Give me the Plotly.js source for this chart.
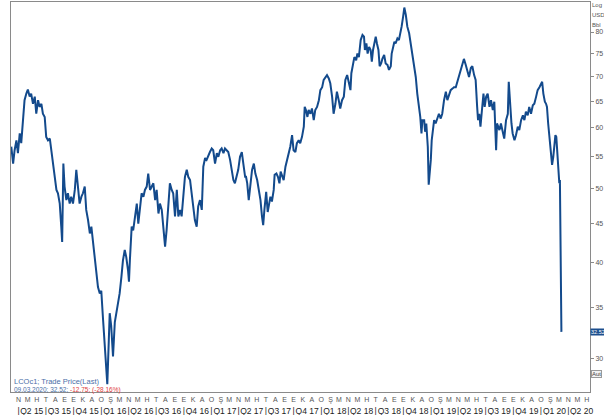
<!DOCTYPE html>
<html>
<head>
<meta charset="utf-8">
<script src="https://cdn.plot.ly/plotly-3.0.1.min.js"></script>
<style>html,body{margin:0;padding:0;background:#fff;}#chart{width:604px;height:415px;}</style>
</head>
<body>
<div id="chart"></div>
<script>
const dates = [
"2015-03-08","2015-03-14","2015-03-19","2015-03-25","2015-03-30","2015-04-05","2015-04-10","2015-04-16","2015-04-21","2015-04-27",
"2015-05-02","2015-05-08","2015-05-13","2015-05-19","2015-05-25","2015-05-30","2015-06-05","2015-06-10","2015-06-16","2015-06-21",
"2015-06-27","2015-07-02","2015-07-08","2015-07-14","2015-07-19","2015-07-25","2015-07-30","2015-08-05","2015-08-10","2015-08-16",
"2015-08-21","2015-08-24","2015-08-28","2015-09-01","2015-09-07","2015-09-12","2015-09-18","2015-09-23","2015-09-29","2015-10-05",
"2015-10-10","2015-10-16","2015-10-21","2015-10-27","2015-11-01","2015-11-07","2015-11-12","2015-11-18","2015-11-24","2015-11-29",
"2015-12-04","2015-12-10","2015-12-15","2015-12-21","2015-12-27","2016-01-01","2016-01-07","2016-01-12","2016-01-18","2016-01-21",
"2016-01-26","2016-01-29","2016-02-03","2016-02-09","2016-02-15","2016-02-20","2016-02-26","2016-03-02","2016-03-08","2016-03-13",
"2016-03-19","2016-03-24","2016-03-30",
"2016-04-02","2016-04-05","2016-04-09","2016-04-11","2016-04-16","2016-04-22","2016-04-28","2016-05-03","2016-05-09","2016-05-14",
"2016-05-20","2016-05-25","2016-05-31","2016-06-05","2016-06-11","2016-06-17","2016-06-22","2016-06-28","2016-07-03","2016-07-09",
"2016-07-14","2016-07-20","2016-07-25","2016-07-31","2016-08-05","2016-08-11","2016-08-16","2016-08-22","2016-08-27","2016-09-02",
"2016-09-08","2016-09-13","2016-09-19","2016-09-24","2016-09-30","2016-10-05","2016-10-11","2016-10-16","2016-10-22","2016-10-27",
"2016-11-02","2016-11-07","2016-11-13","2016-11-18","2016-11-24","2016-11-30","2016-12-05","2016-12-11","2016-12-16","2016-12-22",
"2016-12-27","2017-01-02","2017-01-07","2017-01-13","2017-01-19","2017-01-24","2017-01-30","2017-02-04","2017-02-10","2017-02-15",
"2017-02-21","2017-02-26","2017-03-04","2017-03-09","2017-03-15","2017-03-20","2017-03-26","2017-03-31","2017-04-06","2017-04-12",
"2017-04-17","2017-04-23",
"2017-04-26","2017-04-30","2017-05-05","2017-05-10","2017-05-16","2017-05-22","2017-05-27","2017-06-02","2017-06-07","2017-06-13",
"2017-06-18","2017-06-22","2017-06-26","2017-06-29","2017-07-02","2017-07-07","2017-07-10","2017-07-16","2017-07-21","2017-07-27",
"2017-07-30","2017-08-05","2017-08-10","2017-08-15","2017-08-19","2017-08-24","2017-08-29","2017-09-04","2017-09-09","2017-09-15",
"2017-09-20","2017-09-26","2017-10-01","2017-10-07","2017-10-12","2017-10-18","2017-10-23","2017-10-29","2017-11-04","2017-11-07",
"2017-11-11","2017-11-16","2017-11-20","2017-11-26","2017-12-01","2017-12-07","2017-12-12","2017-12-18","2017-12-24","2017-12-29",
"2018-01-04","2018-01-09","2018-01-15","2018-01-20","2018-01-26","2018-01-31","2018-02-06","2018-02-11","2018-02-17","2018-02-22",
"2018-02-28","2018-03-05","2018-03-11","2018-03-17","2018-03-22","2018-03-28","2018-04-02","2018-04-08","2018-04-11","2018-04-16",
"2018-04-21","2018-04-27","2018-05-01","2018-05-06",
"2018-05-12","2018-05-18","2018-05-23","2018-05-26","2018-05-31","2018-06-04","2018-06-09","2018-06-14","2018-06-18","2018-06-22",
"2018-06-26","2018-07-01","2018-07-05","2018-07-10","2018-07-14","2018-07-19","2018-07-23","2018-07-29","2018-08-03","2018-08-09",
"2018-08-14","2018-08-20","2018-08-23","2018-08-28","2018-09-01","2018-09-05","2018-09-11","2018-09-16","2018-09-21","2018-09-25",
"2018-09-30","2018-10-04","2018-10-09","2018-10-14","2018-10-20","2018-10-25","2018-10-31","2018-11-05","2018-11-11","2018-11-16",
"2018-11-22","2018-11-26","2018-11-30","2018-12-03","2018-12-09","2018-12-12","2018-12-16","2018-12-21","2018-12-24","2018-12-31",
"2019-01-03","2019-01-07","2019-01-11","2019-01-16","2019-01-22","2019-01-27","2019-02-02","2019-02-07","2019-02-13","2019-02-19",
"2019-02-24","2019-03-02","2019-03-07","2019-03-13","2019-03-18","2019-03-24","2019-03-29","2019-04-04","2019-04-09","2019-04-15",
"2019-04-20","2019-04-26","2019-05-01","2019-05-07","2019-05-13","2019-05-18","2019-05-24","2019-05-29","2019-06-03","2019-06-06",
"2019-06-10","2019-06-14","2019-06-19","2019-06-24","2019-06-28","2019-07-03","2019-07-08","2019-07-14","2019-07-19","2019-07-25",
"2019-07-30","2019-08-05","2019-08-08","2019-08-11","2019-08-16","2019-08-21","2019-08-27","2019-09-01","2019-09-07","2019-09-13",
"2019-09-16","2019-09-20","2019-09-25","2019-09-29","2019-10-05","2019-10-10","2019-10-16","2019-10-21","2019-10-27","2019-11-02",
"2019-11-07","2019-11-12","2019-11-18","2019-11-23","2019-11-29","2019-12-05","2019-12-10","2019-12-16","2019-12-21","2019-12-27",
"2020-01-01","2020-01-05","2020-01-09","2020-01-14","2020-01-18","2020-01-21","2020-01-25","2020-01-29","2020-02-03","2020-02-07",
"2020-02-11","2020-02-15","2020-02-18","2020-02-21","2020-02-25","2020-02-28","2020-03-02","2020-03-04","2020-03-06","2020-03-09"
];

const prices = [
56.7,53.9,56.1,57.8,55.6,59.0,57.3,62.0,65.2,66.5,
67.3,65.9,66.5,64.5,65.9,62.6,65.2,63.9,64.5,62.6,
62.0,58.4,57.8,58.1,56.1,53.4,51.8,49.8,49.3,47.8,
44.6,42.6,53.9,50.3,48.3,49.3,47.8,48.8,47.8,49.8,
52.9,50.3,47.8,48.8,49.3,50.3,46.9,45.5,43.7,44.6,
42.8,40.3,38.4,37.2,36.5,36.8,33.7,31.1,29.3,27.8,
31.7,34.4,33.1,30.2,33.5,34.4,35.8,36.5,38.4,40.3,
41.6,40.7,39.1,
37.8,40.3,42.8,44.6,44.1,46.0,47.8,45.0,47.4,49.3,
48.8,49.8,50.3,52.3,49.8,50.3,50.8,48.3,49.8,46.4,
47.8,46.9,44.6,42.0,44.1,47.4,50.8,49.8,49.3,46.0,
49.8,46.0,46.9,46.0,49.3,51.8,52.9,51.8,51.3,49.3,
47.4,45.5,44.6,47.4,48.3,46.9,53.4,54.8,54.5,55.3,
55.8,56.4,56.1,53.9,55.6,55.0,56.1,56.4,55.6,56.4,
56.1,55.8,54.5,52.9,51.3,50.8,51.8,52.9,55.0,55.8,
53.9,51.8,
51.8,50.8,48.3,50.8,52.9,53.9,52.3,51.3,49.8,48.3,
46.0,44.8,46.9,47.8,49.5,46.6,47.4,48.8,48.1,49.8,
52.1,52.3,51.8,50.8,52.6,51.8,51.3,53.4,54.5,55.6,
56.7,58.7,56.1,55.8,57.3,57.8,57.3,58.4,60.2,63.9,
63.3,62.0,63.3,62.6,63.6,61.4,63.3,63.9,65.2,67.2,
67.8,69.3,69.9,70.3,69.6,68.6,65.9,62.6,64.5,66.9,
65.2,63.6,65.2,65.9,69.3,70.3,68.9,67.2,70.7,72.8,
74.2,73.5,75.0,74.2,
78.1,79.3,78.9,75.8,77.3,75.0,76.5,75.8,73.2,75.8,
77.7,78.9,77.3,75.8,72.2,72.8,73.8,74.7,72.8,72.5,
71.4,72.2,75.0,76.5,77.7,77.3,78.5,78.1,79.7,81.3,
83.8,86.1,84.2,81.3,79.7,77.3,74.2,72.2,69.9,66.5,
63.9,62.0,59.0,61.4,61.4,59.3,60.8,56.7,50.6,54.5,
57.8,59.6,61.4,60.8,62.0,62.6,61.7,62.6,65.2,66.9,
65.2,66.5,67.2,67.5,67.8,67.8,68.9,69.9,71.0,72.8,
73.8,72.5,71.0,69.9,71.8,72.2,70.3,69.3,63.9,61.4,
62.6,60.2,63.3,66.5,63.9,65.9,66.5,63.9,65.2,63.3,
64.9,56.1,60.8,60.2,59.6,60.8,59.0,58.1,61.4,62.6,
68.9,63.9,60.8,59.0,57.8,58.7,60.2,59.6,61.4,62.3,
61.4,63.0,62.3,63.9,62.6,64.2,64.5,65.9,67.2,67.8,
68.6,68.9,66.5,64.9,64.5,63.9,60.8,58.4,55.6,53.7,
55.0,57.3,58.7,58.4,55.0,52.3,50.8,51.3,45.27,32.52
];

const monthLetters = ["O","Ş","M","N","M","H","T","A","E","E","K","A"];
const quarterLabels = ["Q2 15","Q3 15","Q4 15","Q1 16","Q2 16","Q3 16","Q4 16","Q1 17","Q2 17","Q3 17","Q4 17",
  "Q1 18","Q2 18","Q3 18","Q4 18","Q1 19","Q2 19","Q3 19","Q4 19","Q1 20","Q2 20"];
const yTicks = [30,35,40,45,50,55,60,65,70,75,80];
const unitLines = ["Log","USD","Bbl"];
const seriesName = "LCOc1; Trade Price(Last)";
const lastInfo = "09.03.2020; 32.52;";
const lastChange = "-12.75; (-28.16%)";
const xRange = ["2015-03-07","2020-06-12"];

const pad = n => (n < 10 ? "0" + n : "" + n);

// month letter ticks (Apr 2015 .. Jun 2020)
const mVals = [], mText = [];
for (let y = 2015, m = 3; y < 2020 || (y === 2020 && m <= 5); ) {
  mVals.push(y + "-" + pad(m + 1) + "-01");
  mText.push(monthLetters[m]);
  m++; if (m > 11) { m = 0; y++; }
}
// quarter ticks with separators
const qVals = [], qText = [];
quarterLabels.forEach(q => {
  const qn = +q[1], yr = 2000 + +q.slice(3);
  const startM = (qn - 1) * 3 + 1;
  qVals.push(yr + "-" + pad(startM) + "-01"); qText.push("|");
  qVals.push(yr + "-" + pad(startM + 1) + "-15"); qText.push(q);
});

const lineColor = "#134a8c";
const traces = [
  {x: dates, y: prices, type: "scatter", mode: "lines", line: {color: lineColor, width: 2}, hoverinfo: "skip"},
  {x: dates, y: prices, xaxis: "x2", type: "scatter", mode: "lines", opacity: 0, line: {width: 0}, hoverinfo: "skip", showlegend: false}
];

const fontFam = "Liberation Sans, Arial, sans-serif";
const unitAnns = unitLines.map((t, i) => ({
  xref: "paper", yref: "paper", x: 1, y: 1, xanchor: "left", yanchor: "middle", xshift: 1, yshift: -3 - 10 * i,
  text: t, showarrow: false, borderpad: 0, font: {size: 6, color: "#555", family: fontFam}
}));

const layout = {
  width: 604, height: 415,
  margin: {l: 11, r: 14, t: 2, b: 23, pad: 0},
  paper_bgcolor: "#ffffff", plot_bgcolor: "#ffffff",
  showlegend: false,
  font: {family: fontFam, size: 8, color: "#444"},
  xaxis: {
    type: "date", range: xRange, showgrid: false, zeroline: false,
    showline: true, linecolor: "#8a8a8a", linewidth: 1, mirror: true,
    tickmode: "array", tickvals: mVals, ticktext: mText, tickangle: 0,
    ticks: "outside", ticklen: 1, tickcolor: "rgba(0,0,0,0)",
    tickfont: {size: 7, color: "#555", family: fontFam}
  },
  xaxis2: {
    type: "date", range: xRange, overlaying: "x", anchor: "y", side: "bottom",
    showgrid: false, zeroline: false, showline: false,
    tickmode: "array", tickvals: qVals, ticktext: qText, tickangle: 0,
    ticks: "outside", ticklen: 11, tickcolor: "rgba(0,0,0,0)",
    tickfont: {size: 8.5, color: "#222", family: fontFam}
  },
  yaxis: {
    type: "log", side: "right", range: [Math.log10(27.15), Math.log10(87.55)],
    showgrid: false, zeroline: false,
    showline: true, linecolor: "#8a8a8a", linewidth: 1, mirror: true,
    tickmode: "array", tickvals: yTicks, ticktext: yTicks.map(String),
    ticks: "outside", ticklen: 3, tickcolor: "#8a8a8a",
    tickfont: {size: 7, color: "#555", family: fontFam}
  },
  annotations: unitAnns.concat([
    {xref: "paper", yref: "y", x: 1, y: Math.log10(prices[prices.length - 1]), xanchor: "left", yanchor: "middle",
     xshift: 0, text: prices[prices.length - 1].toFixed(2), showarrow: false, bgcolor: "#1d4f8e", borderpad: 0,
     font: {size: 5.5, color: "#ffffff", family: fontFam}},
    {xref: "paper", yref: "paper", x: 1, y: 0.045, xanchor: "left", yanchor: "middle", xshift: 1,
     text: "Aut", showarrow: false, bgcolor: "#f2f2f2", bordercolor: "#9a9a9a", borderwidth: 1, borderpad: 0,
     font: {size: 6, color: "#444", family: fontFam}},
    {xref: "paper", yref: "paper", x: 0, y: 0.028, xanchor: "left", yanchor: "middle", xshift: 1,
     text: seriesName, showarrow: false, font: {size: 7.5, color: "#4a6fa8", family: fontFam}},
    {xref: "paper", yref: "paper", x: 0, y: 0.004, xanchor: "left", yanchor: "middle", xshift: 1,
     text: lastInfo + " <span style='color:#e03c3c'>" + lastChange + "</span>", showarrow: false,
     font: {size: 6.5, color: "#4a6fa8", family: fontFam}}
  ])
};

Plotly.newPlot("chart", traces, layout, {staticPlot: true, displayModeBar: false});
</script>
</body>
</html>
